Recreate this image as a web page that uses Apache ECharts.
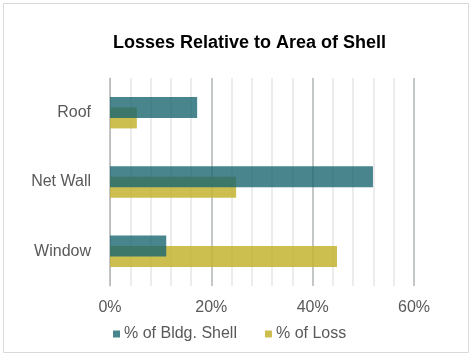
<!DOCTYPE html>
<html>
<head>
<meta charset="utf-8">
<script src="https://cdn.jsdelivr.net/npm/echarts@6/dist/echarts.min.js"></script>
<style>
  html, body { margin: 0; padding: 0; background: #fff; }
  #chart { width: 471px; height: 356px; }
</style>
</head>
<body>
<div id="chart"></div>
<script>
// Building envelope components
const categories = ['Roof', 'Net Wall', 'Window'];
// Share of the building shell area (%)
const shellShare = [17.2, 51.9, 11.1];
// Share of heat loss (%)
const lossShare = [5.3, 24.9, 44.8];
const xTicks = [0, 20, 40, 60];

const chart = echarts.init(document.getElementById('chart'));
const font = 'Liberation Sans, Arial, sans-serif';

chart.setOption({
  animation: false,
  textStyle: { fontFamily: font },
  graphic: [{
    type: 'rect',
    shape: { x: 3.5, y: 3.5, width: 465, height: 349 },
    style: { fill: 'none', stroke: '#d9d9d9', lineWidth: 1 },
    silent: true
  }],
  title: {
    text: 'Losses Relative to Area of Shell',
    left: 108,
    top: 29,
    textStyle: { fontSize: 18, fontWeight: 'bold', color: '#000', fontFamily: font }
  },
  legend: {
    bottom: 9,
    left: 108,
    itemWidth: 7,
    itemHeight: 7,
    itemGap: 28,
    icon: 'rect',
    textStyle: { fontSize: 16, color: '#595959', fontFamily: font, padding: [0, 0, 0, -1] },
    data: ['% of Bldg. Shell', '% of Loss']
  },
  grid: { left: 110, right: 57, top: 78, bottom: 70, containLabel: false },
  xAxis: {
    type: 'value',
    min: xTicks[0],
    max: xTicks[xTicks.length - 1],
    interval: 20,
    axisLine: { show: false },
    axisTick: { show: false },
    axisLabel: {
      formatter: v => xTicks.includes(v) ? v + '%' : '',
      fontSize: 16, color: '#595959', margin: 14, fontFamily: font
    },
    splitLine: { show: true, lineStyle: { color: '#c3c7c7', width: 2 } },
    minorTick: { show: false, splitNumber: 5 },
    minorSplitLine: { show: true, lineStyle: { color: '#ececec', width: 2 } }
  },
  yAxis: {
    type: 'category',
    data: categories,
    inverse: true,
    axisLine: { show: true, lineStyle: { color: '#bcbcbc', width: 1 } },
    axisTick: { show: false },
    axisLabel: { fontSize: 16, color: '#595959', margin: 19, fontFamily: font },
    splitLine: { show: false }
  },
  series: [
    {
      name: '% of Bldg. Shell',
      type: 'bar',
      data: shellShare,
      barWidth: 21,
      barGap: '-50%',
      z: 3,
      itemStyle: { color: '#1a6670', opacity: 0.8 }
    },
    {
      name: '% of Loss',
      type: 'bar',
      data: lossShare,
      barWidth: 21,
      z: 2,
      itemStyle: { color: '#c4b331', opacity: 0.85 }
    }
  ]
});
</script>
</body>
</html>
